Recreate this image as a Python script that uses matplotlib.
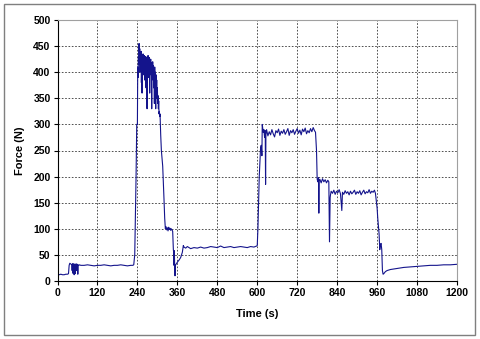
import matplotlib
matplotlib.use("Agg")
import matplotlib.pyplot as plt
from matplotlib.patches import Rectangle

# ---- data ----
time_start = [0, 5, 10, 15, 20, 25, 30, 33, 35, 37, 39, 41, 43, 44, 45, 46, 47, 48, 49, 50,
              51, 52, 53, 54, 55, 56, 57, 58, 59, 60, 61, 62, 64, 66, 70, 80, 90, 100, 110, 120,
              130, 140, 150, 160, 170, 180, 190, 200, 210, 220, 226, 229, 232, 234, 236, 238]
force_start = [12, 12, 13, 12, 12, 13, 13, 14, 30, 34, 33, 32, 31, 20, 33, 15, 32, 31, 33, 12,
               30, 32, 14, 31, 30, 33, 20, 31, 30, 32, 13, 31, 30, 31, 30, 30, 31, 30, 29, 30,
               30, 31, 30, 29, 30, 30, 31, 30, 29, 30, 30, 31, 50, 120, 200, 300]

time_peak = list(range(240, 311)) + [312, 314, 316, 318, 320, 322, 324]
force_peak = [300, 410, 390, 430, 415, 455, 420, 445, 400, 435, 410, 440, 380, 425, 360, 430,
              405, 435, 395, 428, 410, 432, 385, 425, 400, 430, 370, 428, 410, 330, 425, 400,
              432, 390, 425, 405, 428, 360, 420, 400, 425, 395, 418, 330, 415, 395, 420, 385,
              412, 370, 405, 340, 410, 380, 400, 330, 395, 360, 385, 350, 370, 340, 355, 330,
              345, 320, 325, 315, 320, 300, 280, 250, 235, 220, 190, 155, 120, 100]

time_mid = [326, 328, 330, 332, 334, 336, 338, 340, 342, 344, 346, 348, 349, 350, 351, 352, 353,
            354, 356, 360, 365, 370, 375, 378, 380, 385, 390, 400, 410, 420, 430, 440, 450, 460,
            470, 480, 490, 500, 510, 520, 530, 540, 550, 560, 570, 580, 590, 598]
force_mid = [104, 98, 102, 96, 103, 99, 101, 97, 100, 98, 95, 60, 55, 30, 58, 25, 10,
             30, 32, 36, 40, 45, 55, 68, 65, 63, 66, 62, 64, 63, 65, 63, 64, 66, 65, 64, 67, 64,
             65, 66, 64, 65, 66, 65, 64, 66, 65, 67]

time_plat = [600, 602, 604, 606, 608, 610, 612, 614, 615, 616, 618, 620, 622, 624, 625, 626, 628,
             632, 636, 640, 644, 648, 652, 656, 660, 664, 668, 672, 676, 680, 684, 688, 692, 696,
             700, 704, 708, 712, 716, 720, 724, 728, 732, 736, 740, 744, 748, 752, 756, 760, 764,
             768, 772, 775, 778]
force_plat = [68, 100, 150, 200, 230, 255, 260, 240, 300, 295, 285, 290, 275, 288, 185, 280, 290,
              278, 286, 280, 290, 282, 276, 288, 284, 291, 279, 287, 283, 290, 281, 286, 292, 279,
              288, 284, 290, 281, 287, 292, 283, 289, 280, 291, 286, 293, 282, 288, 284, 292, 286,
              294, 288, 285, 250]

time_late = [780, 782, 784, 785, 786, 788, 792, 796, 800, 804, 808, 812, 815, 817, 819, 820, 822,
             826, 830, 834, 838, 842, 846, 850, 854, 856, 860, 864, 868, 872, 876, 880, 884, 888,
             892, 896, 900, 904, 908, 912, 916, 920, 924, 928, 932, 936, 940, 944, 948, 952, 955,
             958, 960, 962, 964, 966, 968, 970, 972, 974, 976, 978, 980, 985, 990, 1000, 1010,
             1020, 1040, 1060, 1080, 1100, 1120, 1140, 1160, 1180, 1200]
force_late = [195, 190, 198, 130, 192, 195, 188, 196, 190, 194, 188, 193, 190, 75, 160, 165, 172,
              168, 174, 166, 172, 169, 175, 167, 135, 170, 166, 173, 168, 171, 165, 172, 167, 170,
              174, 166, 171, 168, 173, 165, 170, 174, 167, 171, 169, 175, 168, 172, 170, 174, 168,
              150, 140, 120, 105, 90, 60, 70, 72, 60, 20, 13, 14, 18, 20, 22, 23,
              24, 26, 27, 28, 29, 30, 30, 31, 31, 32]

time_s = time_start + time_peak + time_mid + time_plat + time_late
force_n = force_start + force_peak + force_mid + force_plat + force_late

x_ticks = [0, 120, 240, 360, 480, 600, 720, 840, 960, 1080, 1200]
y_ticks = [0, 50, 100, 150, 200, 250, 300, 350, 400, 450, 500]

# ---- figure ----
plt.rcParams['font.family'] = ['Liberation Sans', 'DejaVu Sans']
fig = plt.figure(figsize=(4.8, 3.39), dpi=100)
fig.patch.set_facecolor('white')
fig.add_artist(Rectangle((4 / 480, 4 / 339), 471 / 480, 331 / 339, transform=fig.transFigure,
                         fill=False, edgecolor='#7f7f7f', linewidth=1.0))

ax = fig.add_axes([57.5 / 480, 1 - 281 / 339, (457 - 57.5) / 480, (281 - 20) / 339])
ax.plot(time_s, force_n, color='#14148c', linewidth=0.8)

ax.set_xlim(0, 1200)
ax.set_ylim(0, 500)
ax.set_xticks(x_ticks)
ax.set_yticks(y_ticks)
ax.tick_params(direction='out', length=3, width=0.8, labelsize=7.5, pad=2)
for lbl in ax.get_xticklabels() + ax.get_yticklabels():
    lbl.set_fontweight('bold')

ax.grid(True, color='#333333', linestyle=(0, (2, 2)), linewidth=0.6)
for s in ['left', 'bottom']:
    ax.spines[s].set_color('black')
    ax.spines[s].set_linewidth(0.8)
for s in ['top', 'right']:
    ax.spines[s].set_color('#a0a0a0')
    ax.spines[s].set_linewidth(0.8)

ax.set_xlabel('Time (s)', fontsize=8, fontweight='bold', labelpad=8)
ax.set_ylabel('Force (N)', fontsize=8, fontweight='bold', labelpad=6)

fig.savefig('out.png', dpi=100)
